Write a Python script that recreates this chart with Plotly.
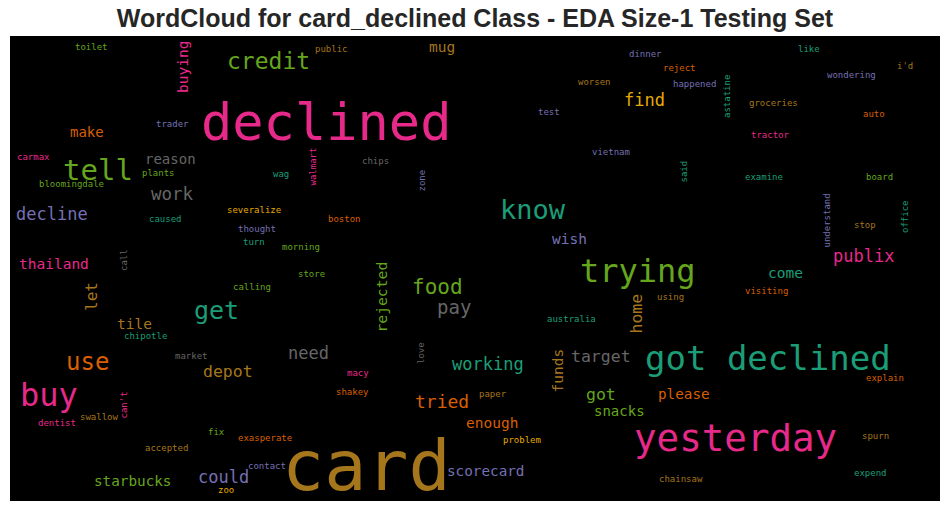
import plotly.graph_objects as go

# ---- data: words and their relative weights (font size in px at this scale) ----
WORDS = [
    "declined", "card", "got declined", "yesterday", "trying", "buy", "tell", "know",
    "get", "use", "credit", "food", "pay", "tried", "work", "decline", "find", "publix",
    "depot", "could", "need", "working", "target", "got", "let", "home", "thailand",
    "make", "reason", "mug", "buying", "wish", "come", "tile", "rejected", "funds",
    "please", "snacks", "enough", "scorecard", "starbucks",
    "toilet", "public", "dinner", "like", "i'd", "reject", "worsen", "happened",
    "wondering", "astatine", "test", "groceries", "auto", "trader", "tractor", "carmax",
    "chips", "vietnam", "plants", "wag", "walmart", "zone", "said", "examine", "board",
    "bloomingdale", "severalize", "boston", "caused", "thought", "turn", "morning",
    "understand", "stop", "office", "call", "store", "calling", "using", "visiting",
    "australia", "chipotle", "market", "love", "macy", "explain", "shakey", "paper",
    "can't", "swallow", "dentist", "fix", "exasperate", "problem", "spurn", "accepted",
    "contact", "expend", "zoo", "chainsaw",
]
WEIGHTS = [
    52, 70, 34, 37.5, 32, 32, 29, 27,
    25, 24, 23, 21, 19, 18, 17.5, 17, 17, 17,
    16.5, 17, 17, 17, 16.5, 16.5, 16, 16.5, 14.5,
    14, 14, 14.5, 14.5, 14.5, 14.5, 14.5, 14.7, 14.5,
    14.3, 14, 14.5, 14.3, 14.3,
] + [9] * 61

# ---- layout of the cloud (word placement, orientation, colour) ----
X = [
    326, 366, 768, 735.5, 638, 48.5, 98, 533,
    216.5, 87, 268, 437.5, 454, 442, 172, 52, 644, 863,
    228, 223.5, 308.5, 487.5, 600.5, 601, 91, 635.5, 53.5,
    87, 170.5, 441.5, 183, 569, 785, 134, 381, 557.5,
    684, 619, 491.5, 485, 132,
    91.5, 331, 645, 809, 905, 679.5, 594, 694.5,
    851.5, 726.5, 549, 773.5, 874, 172.5, 770.5, 33,
    375, 610.5, 158.5, 281, 312, 421.5, 683.5, 764, 879.5,
    71, 253.5, 344.5, 165.5, 256.5, 253.5, 300.5,
    826, 865, 905, 123.5, 311.5, 252, 670, 766.5,
    571, 145.5, 191, 420.5, 357.5, 884.5, 352, 493,
    123.5, 99, 57, 216, 265, 522, 875, 166.5,
    266.5, 870.5, 225.5, 680.5,
]
Y = [
    122.4, 466, 357.8, 437.8, 271.4, 395.4, 170.3, 209.9,
    310.5, 361.8, 61.1, 286.7, 306.8, 401.6, 193.8, 213.9, 99.9, 255.9,
    371, 476.9, 352.9, 363.9, 356, 394, 297, 314, 263.7,
    131.8, 158.8, 47.2, 67, 238.7, 272.7, 323.7, 297.5, 371,
    393.7, 410.8, 422.7, 470.7, 480.7,
    46.5, 49, 54, 49, 65.5, 68, 82, 84,
    75, 96.5, 111.5, 103, 113.5, 124, 134.5, 157,
    161, 151.5, 173, 174, 166.5, 181, 172, 177, 177,
    184, 210, 219, 218.5, 229, 241.5, 247,
    220.5, 225, 217, 260.5, 274, 287, 296.5, 291,
    319, 335.5, 356, 353.5, 373, 377.5, 392, 394,
    405, 417, 423, 432, 438, 440, 436, 447.5,
    465.5, 472.5, 489.5, 479,
]
VERTICAL = {"buying", "let", "home", "rejected", "funds", "astatine", "walmart",
            "zone", "said", "understand", "office", "call", "can't", "love"}

TEAL, ORANGE, PURPLE, PINK = "#1b9e77", "#d95f02", "#7570b3", "#e7298a"
GREEN, YELLOW, BROWN, GRAY = "#66a61e", "#e6ab02", "#a6761d", "#666666"
COLORS = [
    PINK, BROWN, TEAL, PINK, GREEN, PINK, GREEN, TEAL,
    TEAL, ORANGE, GREEN, GREEN, GRAY, ORANGE, GRAY, PURPLE, YELLOW, PINK,
    BROWN, PURPLE, GRAY, TEAL, GRAY, GREEN, BROWN, BROWN, PINK,
    ORANGE, GRAY, BROWN, PINK, PURPLE, TEAL, BROWN, GREEN, BROWN,
    ORANGE, GREEN, ORANGE, PURPLE, GREEN,
    GREEN, BROWN, PURPLE, TEAL, BROWN, ORANGE, BROWN, PURPLE,
    PURPLE, TEAL, PURPLE, BROWN, ORANGE, PURPLE, PINK, PINK,
    GRAY, PURPLE, GREEN, TEAL, PINK, PURPLE, TEAL, TEAL, GREEN,
    GREEN, YELLOW, ORANGE, TEAL, PURPLE, TEAL, GREEN,
    PURPLE, BROWN, TEAL, GRAY, GREEN, GREEN, BROWN, ORANGE,
    TEAL, TEAL, GRAY, GRAY, PINK, ORANGE, ORANGE, BROWN,
    PINK, BROWN, PINK, GREEN, ORANGE, YELLOW, BROWN, BROWN,
    PURPLE, TEAL, YELLOW, BROWN,
]

fig = go.Figure()
fig.add_trace(go.Scatter(x=[None], y=[None], mode="markers", showlegend=False,
                         hoverinfo="skip"))

annotations = []
for w, s, x, y, c in zip(WORDS, WEIGHTS, X, Y, COLORS):
    annotations.append(dict(
        text=w, x=x, y=y, xref="x", yref="y", showarrow=False,
        xanchor="center", yanchor="middle", borderpad=0,
        textangle=-90 if w in VERTICAL else 0,
        font=dict(family="DejaVu Sans Mono", size=s, color=c),
    ))

fig.update_layout(
    width=950, height=511,
    margin=dict(l=10, r=10, t=36, b=10),
    paper_bgcolor="white", plot_bgcolor="black",
    annotations=annotations,
    title=dict(text="WordCloud for card_declined Class - EDA Size-1 Testing Set",
               x=0.5, xref="container", xanchor="center",
               y=1 - 18 / 511, yref="container", yanchor="middle",
               font=dict(family="Liberation Sans", size=25, color="#262626",
                         weight="bold")),
    xaxis=dict(range=[10, 940], visible=False, showgrid=False, zeroline=False),
    yaxis=dict(range=[501, 36], visible=False, showgrid=False, zeroline=False),
)

fig.write_html("out.html")
